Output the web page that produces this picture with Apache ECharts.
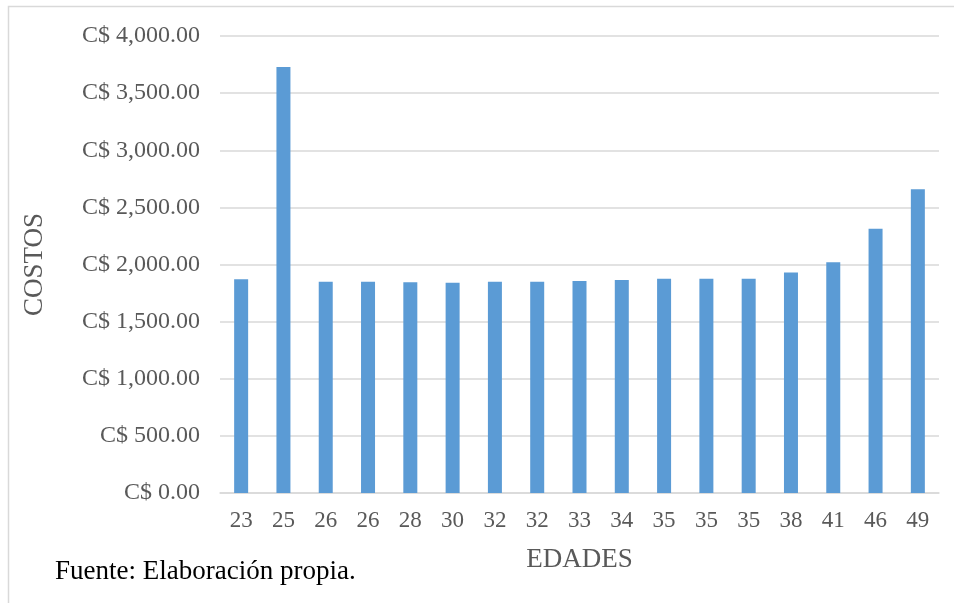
<!DOCTYPE html>
<html>
<head>
<meta charset="utf-8">
<script src="https://cdn.jsdelivr.net/npm/echarts@6/dist/echarts.min.js"></script>
<style>
  html, body { margin: 0; padding: 0; background: #fff; }
  #chart { width: 954px; height: 603px; }
</style>
</head>
<body>
<div id="chart"></div>
<script>
// Edades de los participantes (eje X)
const categories = ['23', '25', '26', '26', '28', '30', '32', '32', '33', '34', '35', '35', '35', '38', '41', '46', '49'];
// Costos por edad (C$)
const costos = [1870, 3728, 1850, 1850, 1844, 1841, 1850, 1850, 1856, 1864, 1876, 1876, 1876, 1929, 2019, 2313, 2658];
// Escala del eje Y
const yMin = 0, yMax = 4000, yStep = 500;

const serif = '"Liberation Serif", "Times New Roman", serif';

function formatCurrency(v) {
  return 'C$ ' + v.toLocaleString('en-US', { minimumFractionDigits: 2, maximumFractionDigits: 2 });
}

const chart = echarts.init(document.getElementById('chart'), null, { renderer: 'canvas' });
chart.setOption({
  animation: false,
  backgroundColor: '#ffffff',
  grid: { left: 220, right: 15, top: 36, bottom: 110, containLabel: false },
  graphic: [
    {
      type: 'polyline',
      shape: { points: [[8.5, 603], [8.5, 6.5], [954, 6.5]] },
      style: { stroke: '#d9d9d9', lineWidth: 1.5, fill: null }
    },
    {
      type: 'text',
      left: 55, top: 558,
      style: { text: 'Fuente: Elaboración propia.', font: '27px ' + serif, fill: '#000000' }
    }
  ],
  xAxis: {
    type: 'category',
    data: categories,
    name: 'EDADES',
    nameLocation: 'middle',
    nameGap: 53,
    nameTextStyle: { fontFamily: serif, fontSize: 27, color: '#595959' },
    axisLine: { lineStyle: { color: '#d9d9d9', width: 1.5 } },
    axisTick: { show: false },
    axisLabel: { fontFamily: serif, fontSize: 23, color: '#595959', margin: 16, interval: 0 }
  },
  yAxis: {
    type: 'value',
    min: yMin, max: yMax, interval: yStep,
    name: 'COSTOS',
    nameLocation: 'middle',
    nameGap: 172,
    nameRotate: 90,
    nameTextStyle: { fontFamily: serif, fontSize: 27, color: '#595959' },
    axisLine: { show: false },
    axisTick: { show: false },
    splitLine: { lineStyle: { color: '#d9d9d9', width: 1.5 } },
    axisLabel: { fontFamily: serif, fontSize: 24, color: '#595959', margin: 20, formatter: formatCurrency }
  },
  series: [{
    type: 'bar',
    data: costos,
    barWidth: 14,
    itemStyle: { color: '#5b9bd5' }
  }]
});
</script>
</body>
</html>
